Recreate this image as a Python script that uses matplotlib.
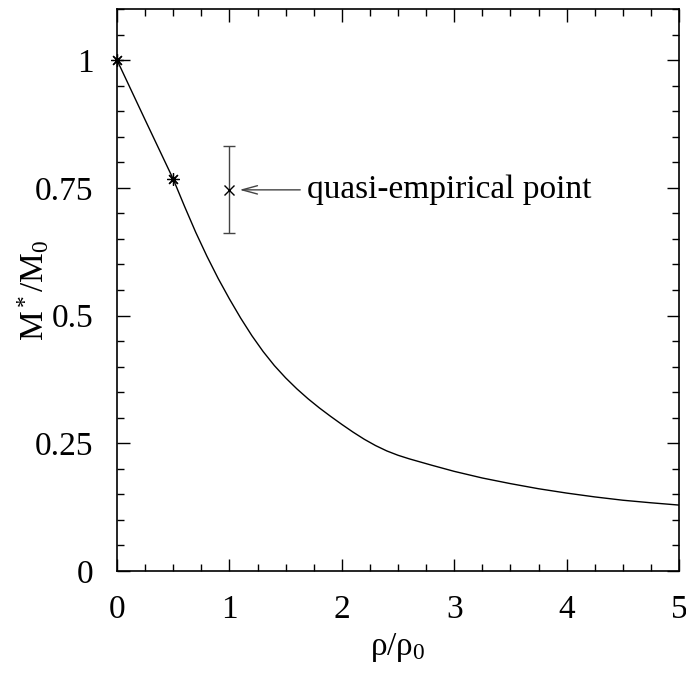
import matplotlib
matplotlib.use("Agg")
import matplotlib.pyplot as plt
from matplotlib.ticker import MultipleLocator

# curve M*/M0 versus rho/rho0
rho = [0.0, 0.25, 0.5, 0.6, 0.7, 0.8, 0.9, 1.0, 1.1, 1.2, 1.3, 1.4, 1.5,
       1.6, 1.7, 1.8, 1.9, 2.0, 2.1, 2.2, 2.3, 2.4, 2.5, 2.6, 2.8, 3.0,
       3.25, 3.5, 3.75, 4.0, 4.25, 4.5, 4.75, 5.0]
mass = [1.0, 0.883, 0.767, 0.714, 0.663, 0.616, 0.5725, 0.5325, 0.495,
        0.4605, 0.4295, 0.402, 0.378, 0.3565, 0.337, 0.3192, 0.3027,
        0.2869, 0.2718, 0.2578, 0.2455, 0.235, 0.2265, 0.2195, 0.207,
        0.195, 0.182, 0.171, 0.161, 0.1525, 0.145, 0.1385, 0.1335, 0.129]

# calculated points
pts_x = [0.0, 0.5]
pts_y = [1.0, 0.767]

# quasi-empirical point with error bar
emp_x = [1.0]
emp_y = [0.746]
emp_err = [0.085]

plt.rcParams['font.family'] = ['Liberation Serif', 'DejaVu Serif']
plt.rcParams['mathtext.fontset'] = 'custom'
plt.rcParams['mathtext.rm'] = 'Liberation Serif'
plt.rcParams['mathtext.it'] = 'Liberation Serif'

fig = plt.figure(figsize=(6.86, 6.77), dpi=100)
ax = fig.add_axes([0.1706, 0.1566, 0.8192, 0.8301])

ax.plot(rho, mass, color='black', lw=1.0)
ax.plot(pts_x, pts_y, ls='none', marker=(8, 2, 0), ms=9, mew=0.9,
        color='black', clip_on=False)
ax.errorbar(emp_x, emp_y, yerr=emp_err, fmt='x', ms=7, mew=1.0,
            color='black', ecolor='#444444', elinewidth=1.0, capsize=4,
            capthick=1.0)

ax.annotate('', xy=(1.09, emp_y[0]), xytext=(1.63, emp_y[0]),
            arrowprops=dict(arrowstyle='->,head_length=1.1,head_width=0.3',
                            color='#444444', lw=1.0, shrinkA=0, shrinkB=0))
ax.text(1.69, emp_y[0], 'quasi-empirical point', fontsize=24,
        va='center', ha='left')

ax.set_xlim(0, 5)
ax.set_ylim(0, 1.1)
ax.set_xticks([0, 1, 2, 3, 4, 5])
ax.set_yticks([0, 0.25, 0.5, 0.75, 1])
ax.set_yticklabels(['0', '0.25', '0.5', '0.75', '1'])
ax.xaxis.set_minor_locator(MultipleLocator(0.25))
ax.yaxis.set_minor_locator(MultipleLocator(0.05))
ax.tick_params(which='both', direction='in', top=True, right=True,
               labelsize=24, width=1.0)
ax.tick_params(which='major', length=9, pad=17)
ax.tick_params(which='minor', length=5)
for s in ax.spines.values():
    s.set_linewidth(1.2)

ax.set_xlabel(r'$\mathregular{\rho/\rho_0}$', fontsize=24, labelpad=4)
ax.set_ylabel(r'$\mathregular{M^*/M_0}$', fontsize=24, labelpad=-12)

fig.savefig('out.png', dpi=100)
